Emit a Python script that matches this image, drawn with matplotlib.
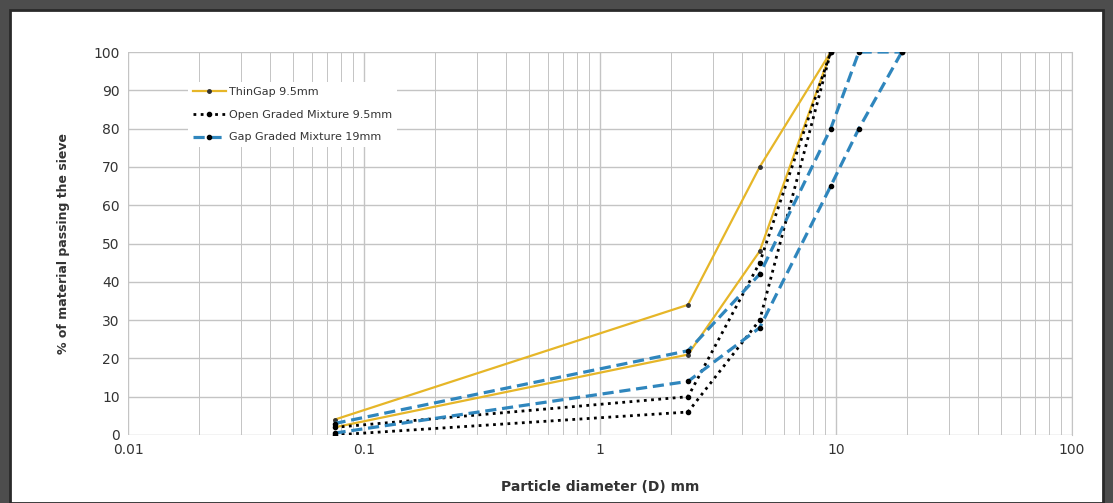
import matplotlib.pyplot as plt
from matplotlib.patches import Rectangle

# sieve sizes (mm) and % passing, two envelope limits per mixture
thin_sieves = [0.075, 2.36, 4.75, 9.5]
thin_upper = [4, 34, 70, 100]
thin_lower = [2, 21, 48, 100]

open_sieves = [0.075, 2.36, 4.75, 9.5]
open_upper = [2, 10, 45, 100]
open_lower = [0, 6, 30, 100]

gap_sieves = [0.075, 2.36, 4.75, 9.5, 12.5, 19]
gap_upper = [3, 22, 42, 80, 100, 100]
gap_lower = [0.5, 14, 28, 65, 80, 100]

x_ticks = [0.01, 0.1, 1, 10, 100]
x_labels = ["0.01", "0.1", "1", "10", "100"]
y_ticks = list(range(0, 101, 10))

YELLOW = "#e6b628"
BLUE = "#2f86bd"
GRID = "#c4c4c4"
TXT = "#333333"


def main():
    fig = plt.figure(figsize=(11.13, 5.03), dpi=100)
    fig.patch.set_facecolor("#4d4d4d")
    # white panel with a thin dark frame, drawn behind the axes
    panel = Rectangle((10 / 1113, 0), 1093 / 1113, 493 / 503,
                      transform=fig.transFigure, facecolor="white",
                      edgecolor="#2a2a2a", linewidth=2.0, zorder=-10)
    fig.add_artist(panel)

    ax = fig.add_axes([128 / 1113, 68 / 503, 944 / 1113, 383 / 503])
    ax.set_facecolor("white")
    ax.set_xscale("log")
    ax.set_xlim(0.01, 100)
    ax.set_ylim(0, 100)

    ax.grid(True, which="major", color=GRID, linewidth=1.0)
    ax.grid(True, which="minor", axis="x", color=GRID, linewidth=0.7)
    ax.set_axisbelow(True)
    for s in ax.spines.values():
        s.set_visible(False)
    ax.spines["right"].set_visible(True)
    ax.spines["right"].set_color(GRID)
    ax.tick_params(which="both", length=0, colors=TXT, labelsize=10, pad=6)

    ax.set_xticks(x_ticks)
    ax.set_xticklabels(x_labels)
    ax.set_yticks(y_ticks)

    ax.plot(thin_sieves, thin_upper, color=YELLOW, lw=1.6, marker="o",
            ms=2.5, mfc="#333333", mec="#333333", label="ThinGap 9.5mm")
    ax.plot(thin_sieves, thin_lower, color=YELLOW, lw=1.6, marker="o",
            ms=2.5, mfc="#333333", mec="#333333")

    ax.plot(open_sieves, open_upper, color="black", lw=2, linestyle=(0, (1, 1.6)),
            marker="o", ms=3, label="Open Graded Mixture 9.5mm")
    ax.plot(open_sieves, open_lower, color="black", lw=2, linestyle=(0, (1, 1.6)),
            marker="o", ms=3)

    ax.plot(gap_sieves, gap_upper, color=BLUE, lw=2.3, linestyle=(0, (3.5, 1.8)),
            marker="o", ms=3, mfc="black", mec="black",
            label="Gap Graded Mixture 19mm")
    ax.plot(gap_sieves, gap_lower, color=BLUE, lw=2.3, linestyle=(0, (3.5, 1.8)),
            marker="o", ms=3, mfc="black", mec="black")

    leg = ax.legend(loc="upper left", bbox_to_anchor=(0.058, 0.935), frameon=True,
                    fontsize=8, handlelength=3.0, labelspacing=1.15,
                    borderpad=0.4, handletextpad=0.3)
    leg.get_frame().set_edgecolor("none")
    leg.get_frame().set_facecolor("white")
    leg.get_frame().set_alpha(1)
    for t in leg.get_texts():
        t.set_color(TXT)

    ax.set_xlabel("Particle diameter (D) mm", fontsize=10, fontweight="bold",
                  color=TXT, labelpad=16)
    ax.set_ylabel("% of material passing the sieve", fontsize=9,
                  fontweight="bold", color=TXT, labelpad=17)

    fig.savefig("out.png", dpi=100, facecolor=fig.get_facecolor())
    plt.close(fig)


if __name__ == "__main__":
    main()
